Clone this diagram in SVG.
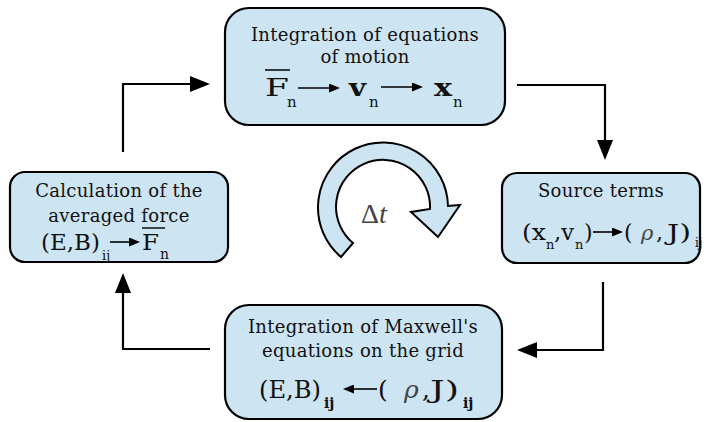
<svg xmlns="http://www.w3.org/2000/svg" width="709" height="422" viewBox="0 0 709 422">
<defs>
<style>
.box{fill:#cde4f2;stroke:#000;stroke-width:2.2}
.t{font-family:"DejaVu Serif","Liberation Serif",serif;font-size:18px;letter-spacing:0.3px;fill:#111;text-anchor:middle}
.m{font-family:"DejaVu Serif","Liberation Serif",serif;fill:#111}
.rho{font-family:"DejaVu Serif","Liberation Serif",serif;font-style:italic;fill:#444}
.con{fill:none;stroke:#000;stroke-width:2.2}
.sm{fill:none;stroke:#000;stroke-width:1.6}
</style>
<marker id="ah" viewBox="0 0 20 16" refX="16" refY="8" markerWidth="20" markerHeight="16" markerUnits="userSpaceOnUse" orient="auto">
<path d="M0,0 L20,8 L0,16 Z" fill="#000"/>
</marker>
<marker id="sa" viewBox="0 0 11 9" refX="9" refY="4.5" markerWidth="11" markerHeight="9" markerUnits="userSpaceOnUse" orient="auto">
<path d="M0,0 L11,4.5 L0,9 Z" fill="#000"/>
</marker>
</defs>

<g id="connectors">
<path class="con" d="M123,152 V84 H206" marker-end="url(#ah)"/>
<path class="con" d="M517,85 H605 V156" marker-end="url(#ah)"/>
<path class="con" d="M603,282 V350 H521" marker-end="url(#ah)"/>
<path class="con" d="M210,349 H123 V277" marker-end="url(#ah)"/>
</g>

<g id="cycle">
<path d="M341,257 A65,65 0 1 1 448,206 L460,205 L438,237 L411,212 L430,209 A47,47 0 1 0 353,243 Z" fill="#cde4f2" stroke="#000" stroke-width="2"/>
<text x="361" y="223" font-family="Liberation Serif, serif" font-size="28" fill="#444">Δ<tspan font-style="italic">t</tspan></text>
</g>

<g id="motion">
<rect class="box" x="225" y="8" width="280" height="117" rx="24"/>
<text class="t" x="365" y="41">Integration of equations</text>
<text class="t" x="365" y="63">of motion</text>
<text class="m" x="265" y="96" font-size="25" textLength="24" lengthAdjust="spacingAndGlyphs">F</text>
<line x1="265" y1="70" x2="290" y2="70" stroke="#000" stroke-width="1.5"/>
<text class="m" x="287" y="107" font-size="15">n</text>
<line class="sm" x1="298" y1="88" x2="338" y2="88" marker-end="url(#sa)"/>
<text class="m" x="349" y="96" font-size="24" font-weight="bold" textLength="17" lengthAdjust="spacingAndGlyphs">v</text>
<text class="m" x="369" y="107" font-size="15">n</text>
<line class="sm" x1="381" y1="87" x2="421" y2="87" marker-end="url(#sa)"/>
<text class="m" x="434" y="96" font-size="24" font-weight="bold" textLength="18" lengthAdjust="spacingAndGlyphs">x</text>
<text class="m" x="453" y="107" font-size="15">n</text>
</g>

<g id="source">
<rect class="box" x="502" y="173" width="198" height="90" rx="15"/>
<text class="t" x="601" y="197">Source terms</text>
<text class="m" x="522" y="240" font-size="22" textLength="24" lengthAdjust="spacingAndGlyphs">(x</text>
<text class="m" x="546" y="249" font-size="13">n</text>
<text class="m" x="554" y="240" font-size="22" textLength="20" lengthAdjust="spacingAndGlyphs">,v</text>
<text class="m" x="575" y="249" font-size="13">n</text>
<text class="m" x="584" y="240" font-size="22">)</text>
<line class="sm" x1="593" y1="232" x2="621" y2="232" marker-end="url(#sa)"/>
<text class="m" x="624" y="240" font-size="22">(</text>
<text class="rho" x="641" y="240" font-size="21">ρ</text>
<text class="m" x="656" y="240" font-size="22">,</text>
<text class="m" x="667" y="240" font-size="22" textLength="24" lengthAdjust="spacingAndGlyphs">J)</text>
<text class="m" x="695" y="247" font-size="12">ij</text>
</g>

<g id="maxwell">
<rect class="box" x="225" y="305" width="277" height="114" rx="24"/>
<text class="t" x="363" y="333">Integration of Maxwell's</text>
<text class="t" x="363" y="357">equations on the grid</text>
<text class="m" x="259" y="398" font-size="25" textLength="62" lengthAdjust="spacingAndGlyphs">(E,B)</text>
<text class="m" x="324" y="408" font-size="14" font-weight="bold">ij</text>
<line class="sm" x1="377" y1="389" x2="345" y2="389" marker-end="url(#sa)"/>
<text class="m" x="378" y="398" font-size="25">(</text>
<text class="rho" x="404" y="398" font-size="25">ρ</text>
<text class="m" x="422" y="398" font-size="25">,</text>
<text class="m" x="430" y="398" font-size="25" textLength="29" lengthAdjust="spacingAndGlyphs">J)</text>
<text class="m" x="463" y="408" font-size="14" font-weight="bold">ij</text>
</g>

<g id="force">
<rect class="box" x="10" y="172" width="218" height="90" rx="15"/>
<text class="t" x="119" y="197">Calculation of the</text>
<text class="t" x="119" y="222">averaged force</text>
<text class="m" x="41" y="250" font-size="22" textLength="59" lengthAdjust="spacingAndGlyphs">(E,B)</text>
<text class="m" x="102" y="260" font-size="13">ij</text>
<line class="sm" x1="110" y1="242" x2="138" y2="242" marker-end="url(#sa)"/>
<text class="m" x="142" y="250" font-size="22" textLength="17" lengthAdjust="spacingAndGlyphs">F</text>
<line x1="142" y1="228" x2="165" y2="228" stroke="#000" stroke-width="1.4"/>
<text class="m" x="160" y="259" font-size="14">n</text>
</g>
</svg>
